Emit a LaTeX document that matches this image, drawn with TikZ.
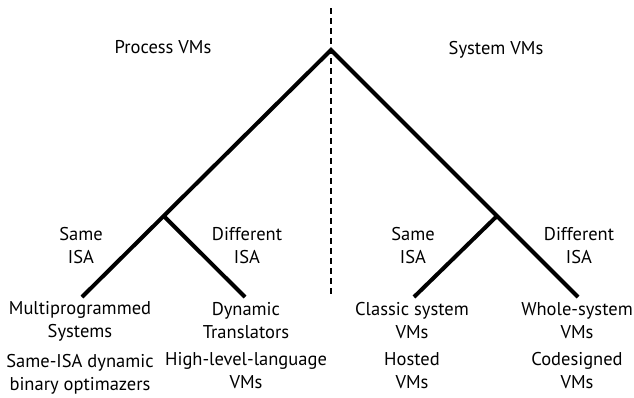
\documentclass[tikz,border=0pt]{standalone}
\usepackage{fontspec}
\setmainfont{PT Sans}
\usetikzlibrary{positioning,calc}
\tikzset{vm node/.style={align=center,inner sep=0pt,font=\fontsize{18.5}{23}\selectfont}}
\tikzset{branch/.style={line width=4pt}}

\begin{document}
\begin{tikzpicture}[x=1pt,y=-1pt]
    \useasboundingbox (0,0) rectangle (634,397);
    % divider between the two families
    \coordinate (top) at (331,8);
    \coordinate (root) at (331,50);
    \coordinate (bottom) at (331,297);
    \draw[line width=1.8pt,dash pattern=on 6pt off 4pt] (top) -- (bottom);

    \node[vm node] (pvm) at (163,47) {Process VMs};
    \node[vm node] (svm) at (496,50) {System VMs};

    % leaves
    \node[vm node] (ms) at (80,321) {Multiprogrammed\\Systems};
    \node[vm node] (dt) at (246,321) {Dynamic\\Translators};
    \node[vm node] (cs) at (412,321) {Classic system\\VMs};
    \node[vm node] (ws) at (577,321) {Whole-system\\VMs};
    \node[vm node] (so) [below=13pt of ms] {Same-ISA dynamic\\binary optimazers};
    \node[vm node] (hl) [below=13pt of dt] {High-level-language\\VMs};
    \node[vm node] (ho) [below=13pt of cs] {Hosted\\VMs};
    \node[vm node] (cd) [below=13pt of ws] {Codesigned\\VMs};

    % branch ends
    \coordinate (msend) at (82,297);
    \coordinate (dtend) at (245,297);
    \coordinate (csend) at (414,297);
    \coordinate (wsend) at (578,297);
    \coordinate (pbr) at ($(root)!0.672!(msend)$);
    \coordinate (sbr) at ($(root)!0.672!(wsend)$);
    \draw[branch] (msend) -- (root) -- (wsend);
    \draw[branch] (pbr) -- (dtend);
    \draw[branch] (sbr) -- (csend);

    \node[vm node] (psame) at (81,246) {Same\\ISA};
    \node[vm node] (pdiff) at (247,246) {Different\\ISA};
    \node[vm node] (ssame) at (413,246) {Same\\ISA};
    \node[vm node] (sdiff) at (579,246) {Different\\ISA};
\end{tikzpicture}
\end{document}
